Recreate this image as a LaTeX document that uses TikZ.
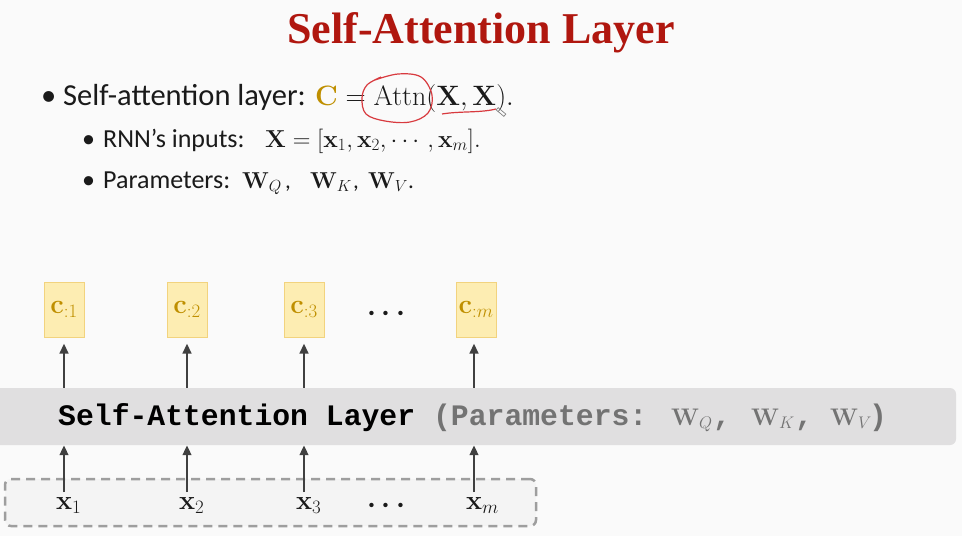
\RequirePackage{fix-cm}
\documentclass[tikz,border=0pt]{standalone}
\usepackage[no-math]{fontspec}
\setmainfont{Carlito}
\newfontfamily\titlefont{Liberation Serif}
\newfontfamily\codefont{Liberation Mono}
\usepackage{amsmath}
\usetikzlibrary{arrows.meta}
\definecolor{bg}{HTML}{FAFAFA}
\definecolor{titlered}{HTML}{B0170F}
\definecolor{cgold}{HTML}{BF8F00}
\definecolor{cfill}{HTML}{FDEDB2}
\definecolor{cborder}{HTML}{F2D37E}
\definecolor{layerfill}{HTML}{E0DFE0}
\definecolor{arrowgray}{HTML}{404040}
\definecolor{dashgray}{HTML}{9E9E9E}
\definecolor{dashfill}{HTML}{F4F4F4}
\definecolor{graytext}{HTML}{737373}
\definecolor{annot}{HTML}{D83A3F}
\definecolor{textblack}{HTML}{1A1A1A}
\begin{document}
\begin{tikzpicture}[x=1pt,y=-1pt,
  arr/.style={draw=arrowgray, line width=2.5pt, -{Triangle[length=10pt,width=8.5pt]}},
  cbox/.style={draw=cborder, fill=cfill, line width=1pt, minimum width=40pt, minimum height=55pt, inner sep=0pt, text=cgold, font=\fontsize{27}{29}\selectfont},
  bl/.style={anchor=base west, inner sep=0pt, text=textblack},
  big/.style={font=\fontsize{30.5}{32}\selectfont},
  mid/.style={font=\fontsize{26}{28}\selectfont},
  codetxt/.style={anchor=base west, inner sep=0pt, font=\codefont\bfseries\fontsize{29.75}{32}\selectfont},
  wmath/.style={anchor=base west, inner sep=0pt, text=graytext, font=\fontsize{24}{26}\selectfont},
  pmath/.style={anchor=base west, inner sep=0pt, text=textblack, font=\fontsize{23}{25}\selectfont},
  xlab/.style={anchor=base west, inner sep=2pt, text=textblack, font=\fontsize{27}{29}\selectfont},
  dotsnode/.style={anchor=base, inner sep=0pt, text=textblack, font=\fontsize{28}{30}\selectfont}]
\fill[bg] (0,0) rectangle (962,536);
\useasboundingbox (0,0) rectangle (962,536);

% title
\node[anchor=base, inner sep=0pt, text=titlered, font=\titlefont\bfseries\fontsize{44}{48}\selectfont] (title) at (481,43) {Self-Attention Layer};

% bullets
\node[bl, big] (d1) at (41,105) {•};
\node[bl, big] (t1) at (63,105) {Self-attention layer:};
\node[bl, font=\fontsize{28}{30}\selectfont] (m1) at (315,105) {$\mathbf{\color{cgold}C}=\mathrm{Attn}(\mathbf{X},\mathbf{X}).$};

\node[bl, mid] (d2) at (82,147) {•};
\node[bl, mid] (t2) at (103,147) {RNN’s inputs:};
\node[bl, font=\fontsize{24.5}{26}\selectfont] (m2) at (265,147) {$\mathbf{X}=[\mathbf{x}_1,\mathbf{x}_2,\cdots,\mathbf{x}_m].$};

\node[bl, mid] (d3) at (82,188) {•};
\node[bl, mid] (t3) at (103,188) {Parameters:};
\node[pmath] (wq) at (242,188) {$\mathbf{W}_Q$};
\node[pmath] (cm1) at (285,188) {,};
\node[pmath] (wk) at (310,188) {$\mathbf{W}_K$};
\node[pmath] (cm2) at (353,188) {,};
\node[pmath] (wv) at (368,188) {$\mathbf{W}_V$};
\node[pmath] (pt) at (408,188) {.};

% red annotation
\draw[annot, line width=1.2pt] plot[smooth, tension=0.6] coordinates {(375,80) (398,74) (421,77) (432,95) (428,113) (410,122) (385,121) (366,114) (362,98) (367,85) (381,77)};
\draw[annot, line width=1.2pt] (442,114) .. controls (460,111) and (480,113) .. (496,109);
\draw[gray, line width=0.7pt, rotate around={-40:(501,112)}] (496,110.5) rectangle (506,113.5);

% layer bar
\node[fill=layerfill, rounded corners=6pt, minimum width=966pt, minimum height=57pt, inner sep=0pt] (layer) at (473,416.5) {};
\node[codetxt] (lt) at (58,425) {Self-Attention Layer {\color{graytext}(Parameters:}};
\node[wmath] (lwq) at (671,425) {$\mathbf{W}_Q$};
\node[codetxt, text=graytext] (lc1) at (713,425) {,};
\node[wmath] (lwk) at (751,425) {$\mathbf{W}_K$};
\node[codetxt, text=graytext] (lc2) at (795,425) {,};
\node[wmath] (lwv) at (830,425) {$\mathbf{W}_V$};
\node[codetxt, text=graytext] (lc3) at (869,425) {)};

% output boxes
\node[cbox] (c1) at (64,309.5) {$\mathbf{c}_{:1}$};
\node[cbox] (c2) at (187,309.5) {$\mathbf{c}_{:2}$};
\node[cbox] (c3) at (304,309.5) {$\mathbf{c}_{:3}$};
\node[cbox] (cm) at (476,309.5) {$\mathbf{c}_{:m}$};
\node[dotsnode] (cdots) at (389,320) {$\boldsymbol{\cdots}$};

\draw[arr, shorten >=6pt] (c1 |- layer.north) -- (c1.south);
\draw[arr, shorten >=6pt] (c2 |- layer.north) -- (c2.south);
\draw[arr, shorten >=6pt] (c3 |- layer.north) -- (c3.south);
\draw[arr, shorten >=6pt] ([xshift=-2pt]cm.south |- layer.north) -- ([xshift=-2pt]cm.south);

% input box
\node[draw=dashgray, fill=dashfill, line width=2.5pt, dash pattern=on 9pt off 6pt, rounded corners=6pt, minimum width=531pt, minimum height=47pt, inner sep=0pt] (inbox) at (270.5,502.5) {};
\node[xlab] (x1) at (54,509) {$\mathbf{x}_1$};
\node[xlab] (x2) at (177,509) {$\mathbf{x}_2$};
\node[xlab] (x3) at (294,509) {$\mathbf{x}_3$};
\node[xlab] (xm) at (464,509) {$\mathbf{x}_m$};
\node[dotsnode] (xdots) at (389,512) {$\boldsymbol{\cdots}$};

\draw[arr] (c1 |- 0,492) -- (c1 |- layer.south);
\draw[arr] (c2 |- 0,492) -- (c2 |- layer.south);
\draw[arr] (c3 |- 0,492) -- (c3 |- layer.south);
\draw[arr] ([xshift=-2pt]cm.center |- 0,492) -- ([xshift=-2pt]cm.center |- layer.south);
\end{tikzpicture}
\end{document}
